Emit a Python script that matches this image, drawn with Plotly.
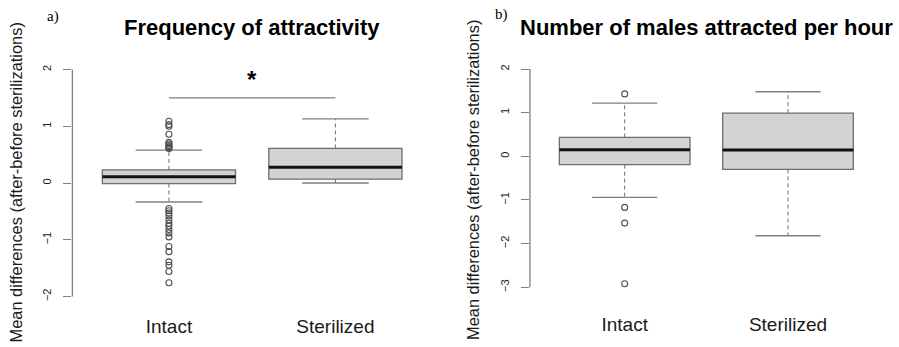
import plotly.graph_objects as go

# ---------------- data ----------------
groups = ["Intact", "Sterilized"]
group_pos = [1, 2]

# Panel a) Frequency of attractivity
a_q1 = [-0.01, 0.07]
a_median = [0.11, 0.277]
a_q3 = [0.23, 0.61]
a_lower = [-0.335, 0.0]
a_upper = [0.58, 1.13]
a_out_intact = [1.09, 1.03, 1.00, 0.86, 0.72, 0.69, 0.66, 0.64, 0.62, 0.61,
                -0.45, -0.49, -0.53, -0.58, -0.65, -0.71, -0.76, -0.82, -0.88, -0.95,
                -1.12, -1.21, -1.39, -1.45, -1.56, -1.76]
a_out_steril = []
a_signif_y = 1.5

# Panel b) Number of males attracted per hour
b_q1 = [-0.19, -0.30]
b_median = [0.153, 0.146]
b_q3 = [0.435, 0.99]
b_lower = [-0.94, -1.82]
b_upper = [1.22, 1.48]
b_out_intact = [1.43, -1.17, -1.53, -2.92]
b_out_steril = []

a_ticks = [-2, -1, 0, 1, 2]
b_ticks = [-3, -2, -1, 0, 1, 2]

title_a = "Frequency of attractivity"
title_b = "Number of males attracted per hour"
ylab = "Mean differences (after-before sterilizations)"

# ---------------- style ----------------
BOX_FILL = "#d3d3d3"
BOX_LINE = "#6e6e6e"
GRAY = "#808080"
TXT = "#1a1a1a"
HALF = 0.4
CAP = 0.2
FONT = "Liberation Sans, Arial, sans-serif"

fig = go.Figure()


def add_panel(fig, xa, ya, q1, med, q3, lo, up, outs):
    for i, c in enumerate(group_pos):
        fig.add_trace(go.Box(
            x=[c], q1=[q1[i]], median=[med[i]], q3=[q3[i]],
            lowerfence=[q1[i]], upperfence=[q3[i]],
            width=2 * HALF, whiskerwidth=0, fillcolor=BOX_FILL,
            line=dict(color=BOX_LINE, width=1.3), boxpoints=False,
            xaxis=xa, yaxis=ya, showlegend=False, hoverinfo="skip"))
        # dashed whiskers
        fig.add_trace(go.Scatter(
            x=[c, c, None, c, c], y=[q3[i], up[i], None, q1[i], lo[i]],
            mode="lines", line=dict(color=BOX_LINE, width=1, dash="4px,3px"),
            xaxis=xa, yaxis=ya, showlegend=False, hoverinfo="skip"))
        # caps
        fig.add_trace(go.Scatter(
            x=[c - CAP, c + CAP, None, c - CAP, c + CAP],
            y=[up[i], up[i], None, lo[i], lo[i]],
            mode="lines", line=dict(color=GRAY, width=1.3),
            xaxis=xa, yaxis=ya, showlegend=False, hoverinfo="skip"))
        # median
        fig.add_trace(go.Scatter(
            x=[c - HALF, c + HALF], y=[med[i], med[i]],
            mode="lines", line=dict(color="#111111", width=3),
            xaxis=xa, yaxis=ya, showlegend=False, hoverinfo="skip"))
        if outs[i]:
            fig.add_trace(go.Scatter(
                x=[c] * len(outs[i]), y=outs[i], mode="markers",
                marker=dict(symbol="circle-open", size=6, color="#505050",
                            line=dict(width=1.1)),
                xaxis=xa, yaxis=ya, showlegend=False, hoverinfo="skip"))


add_panel(fig, "x", "y", a_q1, a_median, a_q3, a_lower, a_upper,
          [a_out_intact, a_out_steril])
add_panel(fig, "x2", "y2", b_q1, b_median, b_q3, b_lower, b_upper,
          [b_out_intact, b_out_steril])

# significance bar
fig.add_trace(go.Scatter(x=group_pos, y=[a_signif_y] * 2, mode="lines",
                         line=dict(color=GRAY, width=1.3), xaxis="x", yaxis="y",
                         showlegend=False, hoverinfo="skip"))

xcommon = dict(range=[0.42, 2.58], tickvals=group_pos, ticktext=groups,
               showgrid=False, zeroline=False, showline=False, automargin=False,
               ticks="outside", tickcolor="rgba(0,0,0,0)",
               tickfont=dict(family=FONT, size=19, color=TXT))
ycommon = dict(showgrid=False, zeroline=False, showline=False, automargin=False,
               ticks="outside", ticklen=8, tickcolor=GRAY, tickwidth=1.3,
               tickangle=-90, ticklabelstandoff=8,
               tickfont=dict(family=FONT, size=11, color=TXT))

fig.update_layout(
    width=899, height=347, margin=dict(l=0, r=0, t=0, b=0, autoexpand=False),
    paper_bgcolor="white", plot_bgcolor="white", showlegend=False,
    xaxis=dict(domain=[0.0805, 0.4805], anchor="y", ticklen=4, **xcommon),
    yaxis=dict(domain=[0.1196, 0.8256], anchor="x", range=[-2.16, 2.16],
               tickvals=a_ticks, **ycommon),
    xaxis2=dict(domain=[0.5895, 0.9819], anchor="y2", ticklen=11, **xcommon),
    yaxis2=dict(domain=[0.147, 0.8262], anchor="x2", range=[-3.2, 2.2],
                tickvals=b_ticks, **ycommon),
)

# R-style axis lines spanning first to last tick
for xr, yr, t in [("x domain", "y", a_ticks), ("x2 domain", "y2", b_ticks)]:
    fig.add_shape(type="line", xref=xr, yref=yr, x0=0, x1=0, y0=min(t), y1=max(t),
                  line=dict(color=GRAY, width=1.3))


def pann(text, px, py, size, family=FONT, angle=0, color="black"):
    return dict(text=text, x=px / 899, y=1 - py / 347, xref="paper", yref="paper",
                xanchor="center", yanchor="middle", textangle=angle, showarrow=False,
                font=dict(family=family, size=size, color=color))


ann = [
    pann("<b>" + title_a + "</b>", 252, 28, 22),
    pann("<b>" + title_b + "</b>", 706, 28, 22),
    pann("a)", 52.5, 17, 15, family="Liberation Serif, serif"),
    pann("b)", 502, 15, 15, family="Liberation Serif, serif"),
    pann(ylab, 15, 182.5, 16.4, angle=-90, color=TXT),
    pann(ylab, 473, 180, 16.4, angle=-90, color=TXT),
    dict(text="<b>*</b>", x=1.5, y=1.83, xref="x", yref="y", showarrow=False,
         xanchor="center", yanchor="middle",
         font=dict(family=FONT, size=24, color="black")),
]
fig.update_layout(annotations=ann)

fig.write_html("out.html", config={"displayModeBar": False},
               post_script="document.body.style.margin='0';")
